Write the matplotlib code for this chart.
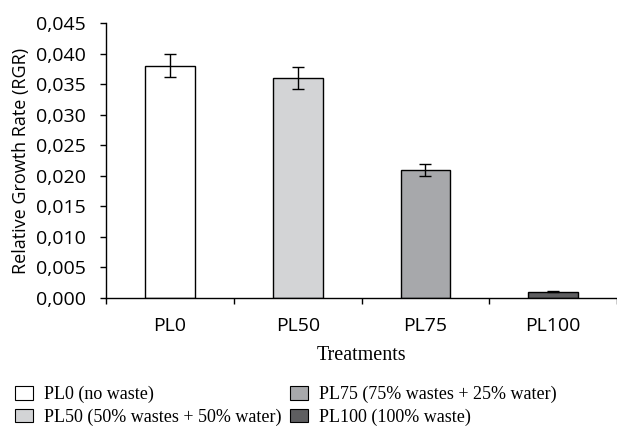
import matplotlib.pyplot as plt
from matplotlib.patches import Patch
from matplotlib.ticker import FixedLocator, FuncFormatter

treatments = ["PL0", "PL50", "PL75", "PL100"]
rgr = [0.038, 0.036, 0.021, 0.001]
rgr_err = [0.0019, 0.0018, 0.0010, 0.0001]
legend_labels = ["PL0 (no waste)", "PL50 (50% wastes + 50% water)",
                 "PL75 (75% wastes + 25% water)", "PL100 (100% waste)"]
colors = ["#ffffff", "#d3d4d6", "#a7a8ab", "#5e5e60"]

sans = ["Open Sans", "DejaVu Sans"]
serif = ["Liberation Serif", "DejaVu Serif"]

fig = plt.figure(figsize=(6.17, 4.28), dpi=100)
ax = fig.add_axes([0.172, 0.304, 0.828, 0.642])

x = list(range(len(treatments)))
ax.bar(x, rgr, width=0.39, color=colors, edgecolor="black", linewidth=1.0,
       yerr=rgr_err, capsize=4, error_kw=dict(elinewidth=1.0, capthick=1.0, ecolor="black"),
       zorder=2)

ax.set_xlim(-0.5, len(treatments) - 0.5)
ax.set_ylim(0, 0.045)
ax.set_yticks([i * 0.005 for i in range(10)])
ax.yaxis.set_major_formatter(FuncFormatter(lambda v, p: f"{v:.3f}".replace(".", ",")))

# category labels at centres, tick marks at boundaries
ax.xaxis.set_major_locator(FixedLocator([i - 0.5 for i in range(len(treatments) + 1)]))
ax.xaxis.set_minor_locator(FixedLocator(x))
ax.set_xticklabels([])
ax.set_xticklabels(treatments, minor=True)
ax.tick_params(axis="x", which="minor", length=0, pad=14, labelsize=14)
ax.tick_params(axis="x", which="major", length=4.5, direction="out", width=1)
ax.tick_params(axis="y", length=4.5, direction="out", width=1, labelsize=14, pad=10)
for lab in ax.get_xticklabels(minor=True) + ax.get_yticklabels():
    lab.set_family(sans)

for side in ["top", "right"]:
    ax.spines[side].set_visible(False)
for side in ["left", "bottom"]:
    ax.spines[side].set_linewidth(1)

ax.set_ylabel("Relative Growth Rate (RGR)", family=sans, fontsize=13, labelpad=4)
ax.set_xlabel("Treatments", family=serif, fontsize=14.5, labelpad=8)

handles = [Patch(facecolor=c, edgecolor="black", linewidth=0.8) for c in colors]
fig.legend(handles, legend_labels, ncol=2, loc="lower left",
           bbox_to_anchor=(0.012, -0.012), borderaxespad=0, frameon=False,
           prop=dict(family=serif, size=13), handlelength=1.0, handleheight=0.8,
           handletextpad=0.6, columnspacing=0.5, labelspacing=0.3)

fig.savefig("out.png", dpi=100)
